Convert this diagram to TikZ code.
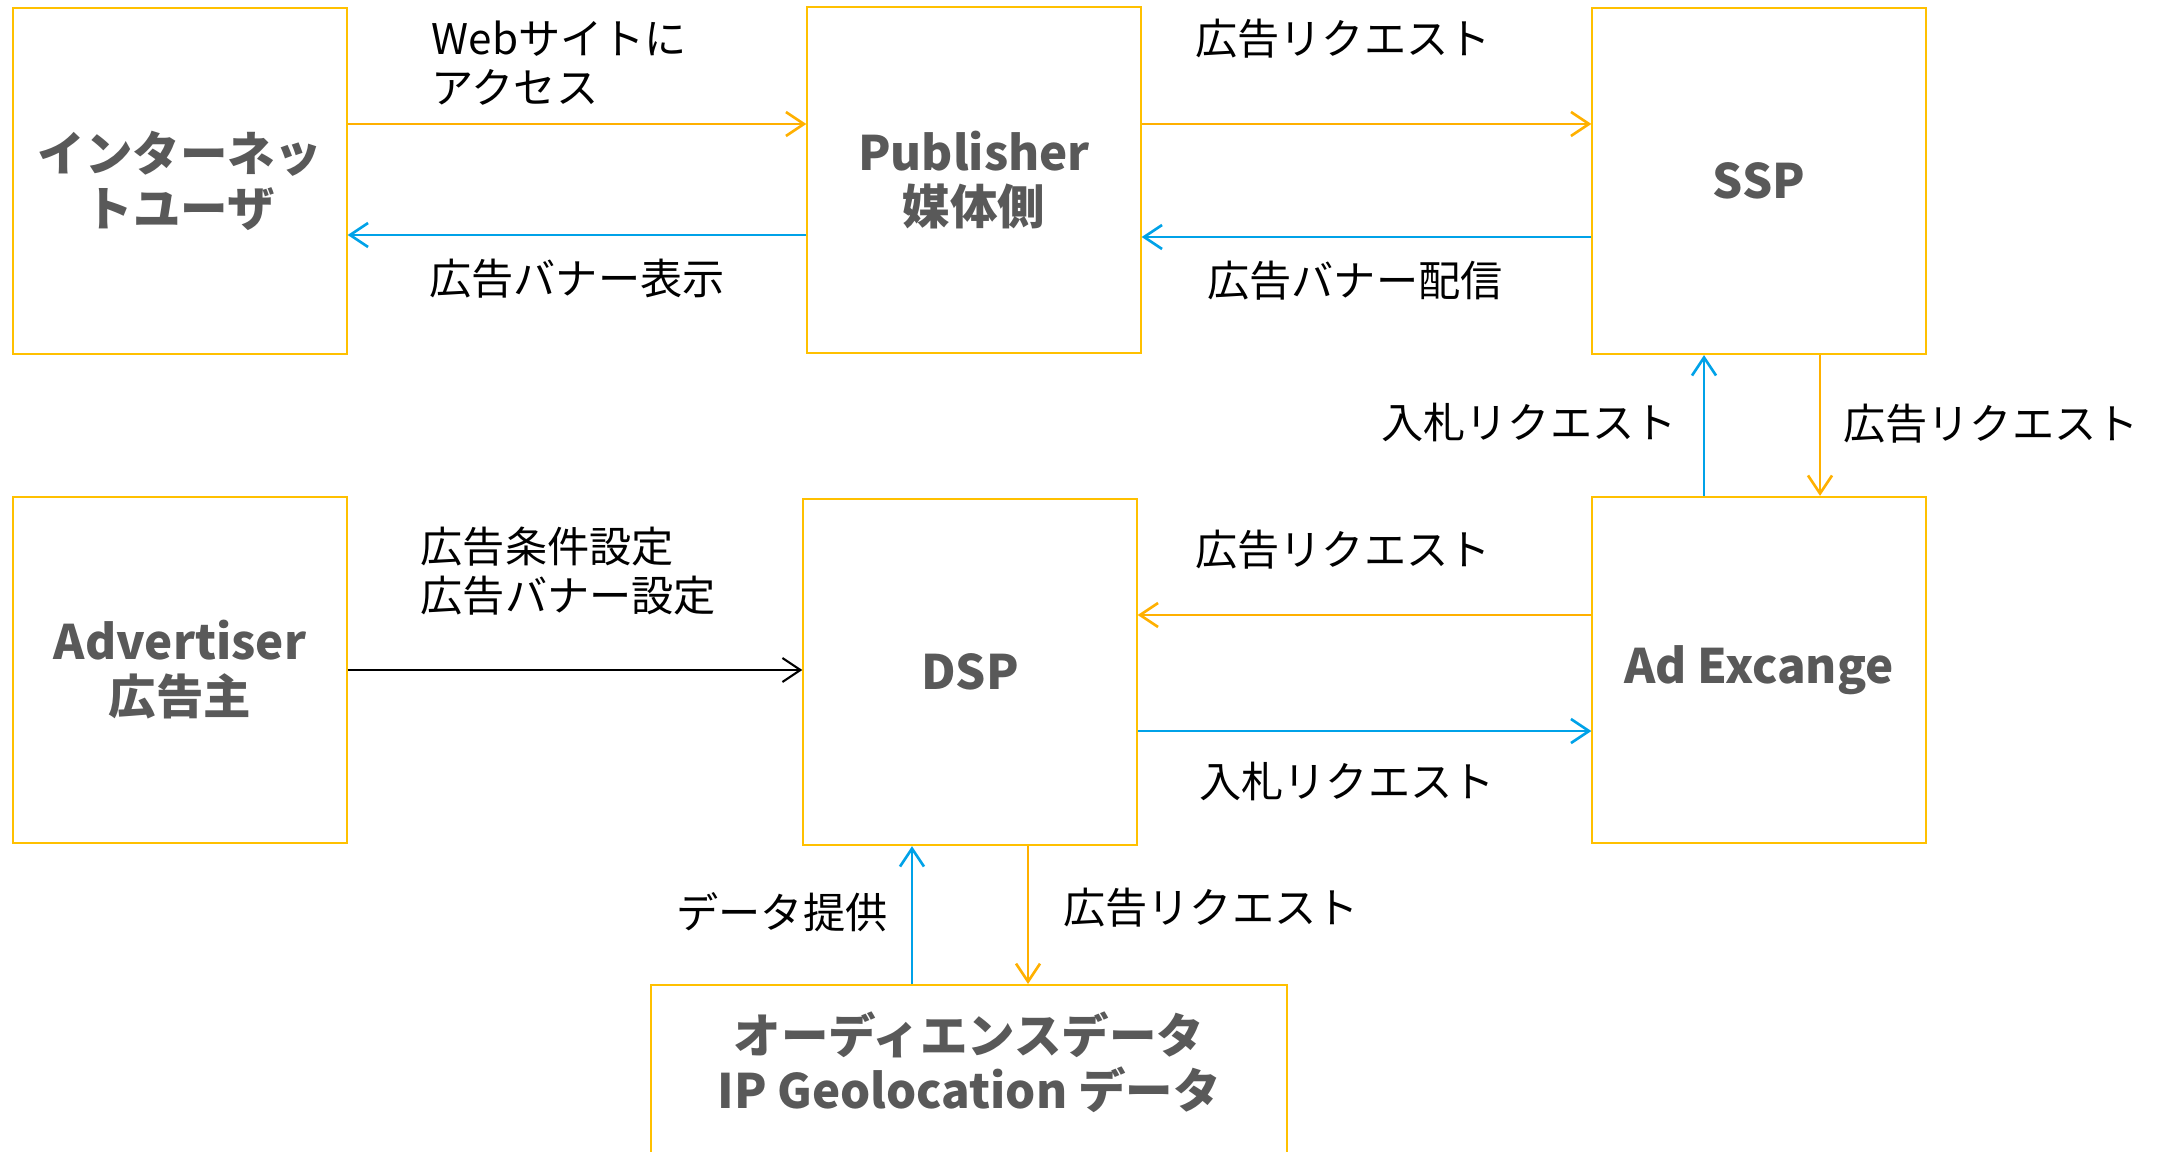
\documentclass[tikz,border=0pt]{standalone}
\usepackage{fontspec}
\setmainfont{Noto Sans CJK JP}
\usetikzlibrary{arrows.meta}
\definecolor{boxorange}{HTML}{FFC000}
\definecolor{arrorange}{HTML}{FFB000}
\definecolor{arrblue}{HTML}{00A2E8}
\definecolor{boxtext}{HTML}{595959}

\begin{document}
\begin{tikzpicture}[x=0.01cm,y=-0.01cm,
    box/.style={draw=boxorange,
        line width=0.6pt,
        minimum width=3.33cm,
        minimum height=3.46cm,
        inner sep=0pt,
        align=center,
        text=boxtext,
        font=\fontsize{13.5}{15.6}\selectfont\bfseries
    },
    lbl/.style={inner sep=0pt, font=\fontsize{12}{14}\selectfont},
    tip/.style={-{Straight Barb[length=1.8mm,width=2.4mm]}},
    oarr/.style={tip, draw=arrorange, line width=0.75pt},
    barr/.style={tip, draw=arrblue, line width=0.75pt},
    karr/.style={tip, draw=black, line width=0.6pt}]

    \useasboundingbox (0,0) rectangle (2167,1152);
    \clip (0,0) rectangle (2167,1152);

    % boxes
    \node[box] (user) at (180,181) {インターネッ\\トユーザ};
    \node[box] (pub) at (974,180) {Publisher\\媒体側};
    \node[box] (ssp) at (1759,181) {SSP};
    \node[box] (adv) at (180,670) {Advertiser\\広告主};
    \node[box] (dsp) at (970,672) {DSP};
    \node[box] (adx) at (1759,670) {Ad Excange};
    \node[box,
        minimum width=6.36cm,
        minimum height=3cm,
        anchor=north
    ] (aud) at (969,984) {};
    \node[box, draw=none, minimum width=0pt, minimum height=0pt] (audtxt)
        at (969,1062) {オーディエンスデータ\\IP Geolocation データ};

    % top row
    \draw[oarr] (user.east |- 0,124) -- (pub.west |- 0,124);
    \draw[barr] (pub.west |- 0,235) -- (user.east |- 0,235);
    \draw[oarr] (pub.east |- 0,124) -- (ssp.west |- 0,124);
    \draw[barr] (ssp.west |- 0,237) -- (pub.east |- 0,237);
    \node[lbl, anchor=west, align=left] (access) at (431,63) {Webサイトに\\アクセス};
    \node[lbl] (showbanner) at (577,279) {広告バナー表示};
    \node[lbl] (req1) at (1343,39) {広告リクエスト};
    \node[lbl] (deliver) at (1355,281) {広告バナー配信};

    % ssp <-> ad exchange
    \draw[barr] (adx.north -| 1704,0) -- (ssp.south -| 1704,0);
    \draw[oarr] (ssp.south -| 1820,0) -- (adx.north -| 1820,0);
    \node[lbl] (bid1) at (1529,422) {入札リクエスト};
    \node[lbl] (req2) at (1991,424) {広告リクエスト};

    % middle row
    \draw[karr] (adv.east |- 0,670) -- (dsp.west |- 0,670);
    \draw[oarr] (adx.west |- 0,615) -- (dsp.east |- 0,615);
    \draw[barr] (dsp.east |- 0,731) -- (adx.west |- 0,731);
    \node[lbl, anchor=west, align=left] (setting) at (420,571) {広告条件設定\\広告バナー設定};
    \node[lbl] (req3) at (1343,550) {広告リクエスト};
    \node[lbl] (bid2) at (1347,781) {入札リクエスト};

    % dsp <-> audience data
    \draw[barr] (aud.north -| 912,0) -- (dsp.south -| 912,0);
    \draw[oarr] (dsp.south -| 1028,0) -- (aud.north -| 1028,0);
    \node[lbl] (provide) at (782,912) {データ提供};
    \node[lbl] (req4) at (1211,908) {広告リクエスト};
\end{tikzpicture}
\end{document}
